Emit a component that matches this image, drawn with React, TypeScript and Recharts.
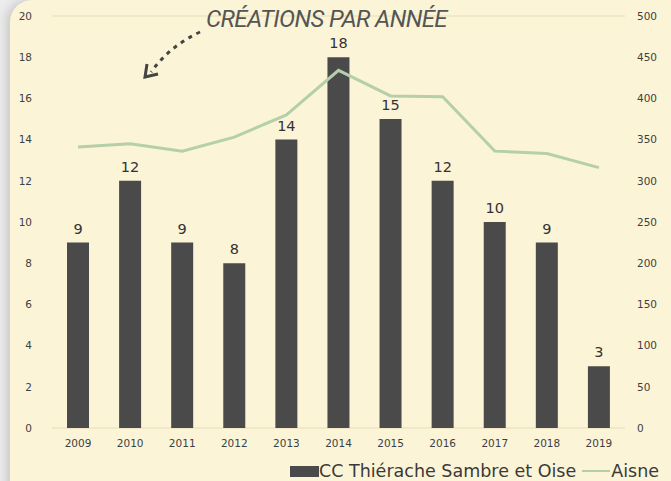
import { ComposedChart, Bar, Line, XAxis, YAxis, CartesianGrid, LabelList, Legend } from 'recharts';

const years = ['2009', '2010', '2011', '2012', '2013', '2014', '2015', '2016', '2017', '2018', '2019'];
const ccValues = [9, 12, 9, 8, 14, 18, 15, 12, 10, 9, 3];
const aisneValues = [341, 345, 336, 353, 380, 434, 403, 402, 336, 333, 316];

const leftTicks = [0, 2, 4, 6, 8, 10, 12, 14, 16, 18, 20];
const rightTicks = [0, 50, 100, 150, 200, 250, 300, 350, 400, 450, 500];

const data = years.map((year, i) => ({
  year,
  cc: ccValues[i],
  aisne: aisneValues[i],
}));

const font = '"DejaVu Sans", Lato, sans-serif';
const tickStyle = { fontSize: 10.5, fill: '#3f3f3f', fontFamily: font, fontWeight: 400 };

function LegendContent() {
  return (
    <div style={{ display: 'flex', justifyContent: 'flex-end', alignItems: 'center', fontFamily: font, fontSize: 17.5, color: '#3a3a3a', paddingRight: 12, marginTop: 6 }}>
      <span style={{ display: 'inline-block', width: 29, height: 11, background: '#4a4a4a' }} />
      <span>CC Thiérache Sambre et Oise</span>
      <span style={{ display: 'inline-block', width: 28, height: 2, background: '#b4cfaa', margin: '0 1px 0 6px' }} />
      <span>Aisne</span>
    </div>
  );
}

export default function App() {
  return (
    <div style={{ position: 'fixed', left: 0, top: 0, width: 671, height: 481, background: '#ececec', overflow: 'hidden' }}>
      <div
        style={{
          position: 'absolute',
          left: 10,
          top: 0,
          width: 680,
          height: 500,
          background: '#fcf4d6',
          borderRadius: '22px 0 0 0',
          boxShadow: '-4px 0 10px rgba(0,0,0,0.15)',
        }}
      />
      <div style={{ position: 'absolute', left: 0, top: 0 }}>
        <ComposedChart width={671} height={481} data={data} margin={{ top: 16, right: 0, bottom: 0, left: 0 }}>
          <CartesianGrid vertical={false} stroke="#e6dcb8" />
          <XAxis dataKey="year" axisLine={false} tickLine={false} tick={tickStyle} height={27} tickMargin={6} />
          <YAxis yAxisId="left" domain={[0, 20]} ticks={leftTicks} axisLine={false} tickLine={false} width={52} tick={tickStyle} tickMargin={14} />
          <YAxis yAxisId="right" orientation="right" domain={[0, 500]} ticks={rightTicks} axisLine={false} tickLine={false} width={46} tick={tickStyle} tickMargin={6} />
          <Bar yAxisId="left" dataKey="cc" name="CC Thiérache Sambre et Oise" fill="#4a4a4a" barSize={22} isAnimationActive={false}>
            <LabelList dataKey="cc" position="top" offset={9} style={{ fontSize: 14.5, fill: '#333', fontFamily: font, fontWeight: 400 }} />
          </Bar>
          <Line yAxisId="right" dataKey="aisne" name="Aisne" type="linear" stroke="#b4cfaa" strokeWidth={3} dot={false} isAnimationActive={false} />
          <Legend verticalAlign="bottom" height={26} content={<LegendContent />} />
        </ComposedChart>
      </div>
      <div style={{ position: 'absolute', left: 206, top: 5, fontFamily: '"Liberation Sans Narrow", Roboto, sans-serif', fontStyle: 'italic', fontSize: 24, color: '#555', letterSpacing: -0.6 }}>
        CRÉATIONS PAR ANNÉE
      </div>
      <svg style={{ position: 'absolute', left: 0, top: 0 }} width={671} height={481}>
        <path d="M200 32 Q170 46 151 72" fill="none" stroke="#444" strokeWidth={3} strokeDasharray="4 5" />
        <path d="M147 64 L145 77 L158 74" fill="none" stroke="#444" strokeWidth={3} />
      </svg>
    </div>
  );
}
